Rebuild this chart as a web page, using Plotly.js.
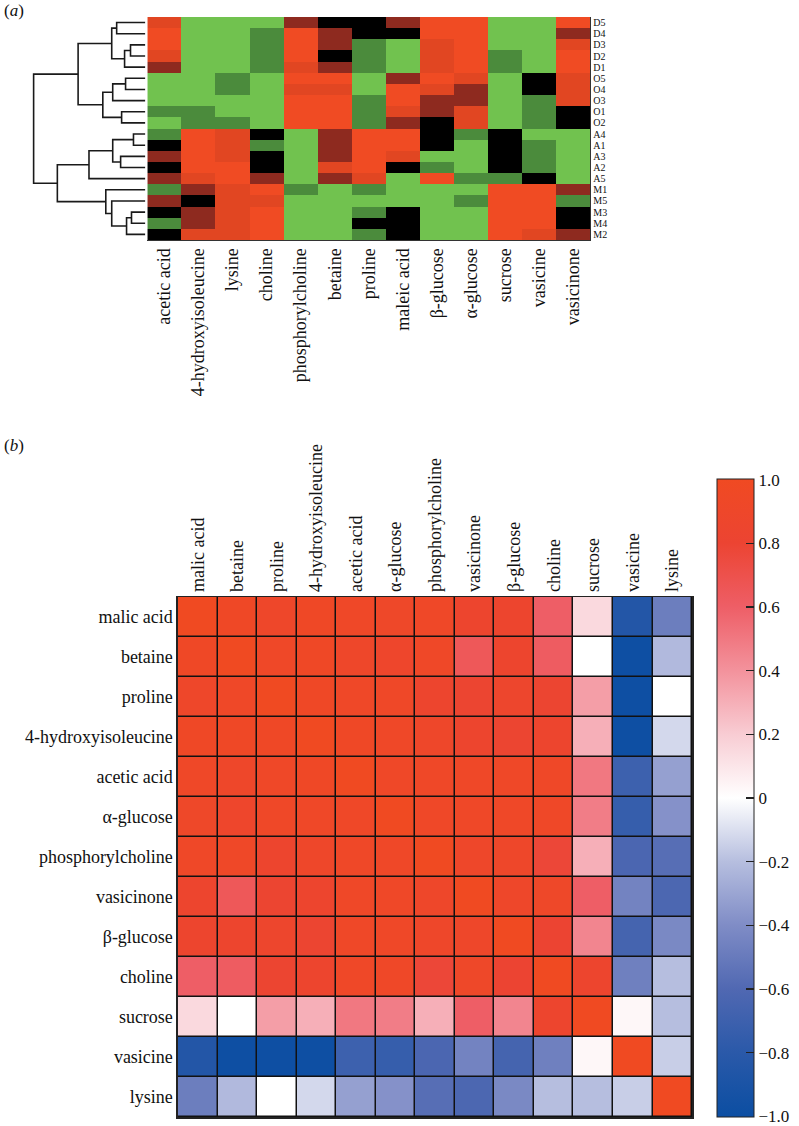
<!DOCTYPE html>
<html><head><meta charset="utf-8">
<script src="https://cdn.plot.ly/plotly-3.0.1.min.js"></script>
<style>html,body{margin:0;padding:0;background:#fff}</style>
</head><body><div id="chart" style="width:799px;height:1126px"></div>
<script>
// ---------- Panel (a): clustered heatmap ----------
const samples = ['D5','D4','D3','D2','D1','O5','O4','O3','O1','O2','A4','A1','A3','A2','A5','M1','M5','M3','M4','M2'];
const metabolitesA = ['acetic acid','4-hydroxyisoleucine','lysine','choline','phosphorylcholine','betaine','proline','maleic acid','\u03b2-glucose','\u03b1-glucose','sucrose','vasicine','vasicinone'];
// relative level (green = low, black = mid, red = high)
const levelsA = [
  [1.85,-2,-2,-2, 1, 0, 0, 1, 2, 2,-2,-2, 2],
  [2,-2,-2,-1, 2, 1, 0, 0, 2, 2,-2,-2, 1],
  [2,-2,-2,-1, 2, 1,-1,-2,1.85, 2,-2,-2,1.85],
  [1.85,-2,-2,-1, 2, 0,-1,-2,1.85, 2,-1,-2, 2],
  [1,-2,-2,-1,1.85, 1,-1,-2,1.85, 2,-1,-2, 2],
  [-2,-2,-1,-2, 2, 2,-2, 1, 2,1.85,-2, 0,1.85],
  [-2,-2,-1,-2,1.85,1.85,-2, 2,1.85, 1,-2, 0,1.85],
  [-2,-2,-2,-2, 2, 2,-1, 2, 1, 1,-2,-1,1.85],
  [-1,-1,-2,-2, 2, 2,-1,1.85, 1,1.85,-2,-1, 0],
  [-2,-1,-1,-2, 2, 2,-1, 1, 0,1.85,-2,-1, 0],
  [-1, 2,1.85, 0,-2, 1, 2, 2, 0,-1, 0,-2,-2],
  [0, 2,1.85,-1,-2, 1, 2, 2, 0,-2, 0,-1,-2],
  [1, 2,1.85, 0,-2, 1, 2,1.85,-2,-2, 0,-1,-2],
  [0, 2, 2, 0,-2,1.85, 2, 0,-1,-2, 0,-1,-2],
  [1,1.85, 2, 1,-2, 1,1.85,-2, 2,-1,-1, 0,-2],
  [-1, 1,1.85, 2,-1,-2,-1,-2,-2,-2, 2, 2, 1],
  [1, 0,1.85,1.85,-2,-2,-2,-2,-2,-1, 2, 2,-1],
  [0, 1,1.85, 2,-2,-2,-1, 0,-2,-2, 2, 2, 0],
  [-1, 1,1.85, 2,-2,-2, 0, 0,-2,-2, 2, 2, 0],
  [0,1.85,1.85, 2,-2,-2,-1, 0,-2,-2, 2,1.85, 1]
];
// dendrogram merges: [child1, child2, height]; leaves 0..19, new clusters 20..
const dendroMerges = [
  [10,11,1.2],[17,18,1.4],[2,3,1.5],[21,19,1.9],[5,6,2.0],[22,4,2.1],[8,9,2.4],
  [12,13,2.5],[0,1,2.9],[24,7,3.3],[20,27,3.3],[28,25,3.4],[23,16,3.4],[32,15,4.0],
  [29,26,4.3],[30,14,5.7],[31,34,6.8],[35,33,8.9],[36,37,11.3]
];

// ---------- Panel (b): correlation matrix ----------
const metabolitesB = ['malic acid','betaine','proline','4-hydroxyisoleucine','acetic acid','\u03b1-glucose','phosphorylcholine','vasicinone','\u03b2-glucose','choline','sucrose','vasicine','lysine'];
const corrB = [
  [1.00,0.95,0.90,0.95,0.93,0.92,0.93,0.85,0.85,0.60,0.15,-0.85,-0.48],
  [0.95,1.00,0.93,0.95,0.90,0.88,0.93,0.65,0.85,0.62,0.00,-0.98,-0.22],
  [0.90,0.93,1.00,0.95,0.93,0.93,0.85,0.82,0.86,0.82,0.36,-0.98,0.00],
  [0.95,0.95,0.95,1.00,0.95,0.93,0.90,0.85,0.82,0.85,0.30,-0.98,-0.12],
  [0.93,0.90,0.93,0.95,1.00,0.93,0.93,0.93,0.93,0.93,0.50,-0.70,-0.32],
  [0.92,0.88,0.93,0.93,0.93,1.00,0.93,0.93,0.93,0.93,0.48,-0.74,-0.38],
  [0.93,0.93,0.85,0.90,0.93,0.93,1.00,0.90,0.90,0.78,0.30,-0.63,-0.57],
  [0.85,0.65,0.82,0.85,0.93,0.93,0.90,1.00,0.90,0.92,0.60,-0.45,-0.62],
  [0.85,0.85,0.86,0.82,0.93,0.93,0.90,0.90,1.00,0.80,0.45,-0.66,-0.42],
  [0.60,0.62,0.82,0.85,0.93,0.93,0.78,0.92,0.80,1.00,0.85,-0.47,-0.20],
  [0.15,0.00,0.36,0.30,0.50,0.48,0.30,0.60,0.45,0.85,1.00,0.03,-0.20],
  [-0.85,-0.98,-0.98,-0.98,-0.70,-0.74,-0.63,-0.45,-0.66,-0.47,0.03,1.00,-0.15],
  [-0.48,-0.22,0.00,-0.12,-0.32,-0.38,-0.57,-0.62,-0.42,-0.20,-0.20,-0.15,1.00]
];
const cbTickVals = [1,0.8,0.6,0.4,0.2,0,-0.2,-0.4,-0.6,-0.8,-1];
const cbTickText = ['1.0','0.8','0.6','0.4','0.2','0','\u22120.2','\u22120.4','\u22120.6','\u22120.8','\u22121.0'];

// ---------- build dendrogram path ----------
const nodeY = samples.map((_, i) => i);
const nodeH = samples.map(() => 0);
const dx = [], dy = [];
dendroMerges.forEach(([a, b, h]) => {
  dx.push(nodeH[a], h, h, nodeH[b], null);
  dy.push(nodeY[a], nodeY[a], nodeY[b], nodeY[b], null);
  nodeY.push((nodeY[a] + nodeY[b]) / 2);
  nodeH.push(h);
});

const serif = '"Liberation Serif", "Times New Roman", Times, serif';
const W = 799, H = 1126;
const px = v => v / W, py = v => 1 - v / H;

const greenRed = [
  [0, '#71c24f'], [0.25, '#4b8b3c'], [0.5, '#000000'], [0.75, '#8e2a1f'], [1, '#f04b23']
];
const blueRed = [
  [0.0, '#0b4ea2'], [0.1, '#2a59a9'], [0.2, '#5068b2'], [0.3, '#7f8cc6'], [0.4, '#b6bedf'],
  [0.5, '#ffffff'], [0.6, '#f8ccd3'], [0.7, '#f3929c'], [0.8, '#ee5e66'], [0.9, '#ec4432'], [1.0, '#f04a22']
];

const traces = [
  {
    type: 'heatmap', x: metabolitesA, y: samples.map((_, i) => i), z: levelsA,
    zmin: -2, zmax: 2, colorscale: greenRed, showscale: false,
    xaxis: 'x', yaxis: 'y', hoverinfo: 'skip'
  },
  {
    type: 'scatter', mode: 'lines', x: dx, y: dy, connectgaps: false,
    line: {color: '#1a1a1a', width: 1.6}, xaxis: 'x2', yaxis: 'y', hoverinfo: 'skip', cliponaxis: false
  },
  {
    type: 'heatmap', x: metabolitesB, y: metabolitesB, z: corrB,
    zmin: -1.002, zmax: 1.002, colorscale: blueRed, xgap: 1.5, ygap: 1.5,
    xaxis: 'x3', yaxis: 'y3', hoverinfo: 'skip',
    colorbar: {
      thickness: 37, thicknessmode: 'pixels', len: 638, lenmode: 'pixels',
      x: px(725), xanchor: 'left', y: py(1117), yanchor: 'bottom', xpad: 0, ypad: 0,
      outlinewidth: 1, outlinecolor: '#222', ticks: 'inside', ticklen: 8, tickcolor: '#222', tickwidth: 1.5,
      ticklabeloverflow: 'allow',
      tickvals: cbTickVals, ticktext: cbTickText, tickfont: {family: serif, size: 17, color: '#111'}
    }
  }
];

const layout = {
  width: W, height: H, margin: {l: 0, r: 0, t: 0, b: 0},
  paper_bgcolor: '#fff', plot_bgcolor: '#fff', showlegend: false,
  font: {family: serif, color: '#111'},
  xaxis: {
    domain: [px(149), px(597)], anchor: 'y', type: 'category', tickangle: -90,
    tickfont: {family: serif, size: 18}, ticks: '', showline: true, linecolor: '#333', linewidth: 1,
    showgrid: false, zeroline: false, fixedrange: true
  },
  yaxis: {
    domain: [py(240), py(17)], anchor: 'x', side: 'right', range: [19.5, -0.5],
    tickvals: samples.map((_, i) => i), ticktext: samples, tickfont: {family: serif, size: 10},
    ticks: '', showline: true, linecolor: '#333', linewidth: 1, showgrid: false, zeroline: false
  },
  xaxis2: {
    domain: [px(25), px(147)], anchor: 'y', range: [12.2, 0], visible: false,
    showgrid: false, zeroline: false
  },
  xaxis3: {
    domain: [px(180), px(700)], anchor: 'y3', side: 'top', type: 'category', tickangle: -90,
    tickfont: {family: serif, size: 18}, ticks: '', showline: true, mirror: true,
    linecolor: '#222', linewidth: 1.5, showgrid: false, zeroline: false
  },
  yaxis3: {
    domain: [py(1117), py(597)], anchor: 'x3', type: 'category', autorange: 'reversed',
    tickfont: {family: serif, size: 18}, ticks: '', showline: true, mirror: true,
    linecolor: '#222', linewidth: 1.5, showgrid: false, zeroline: false
  },
  shapes: [{
    type: 'rect', xref: 'x3 domain', yref: 'y3 domain', x0: 0, x1: 1, y0: 0, y1: 1,
    fillcolor: '#111', line: {width: 0}, layer: 'below'
  }],
  annotations: [
    {text: '(<i>a</i>)', xref: 'paper', yref: 'paper', x: px(2), y: py(10), xanchor: 'left', yanchor: 'middle',
     showarrow: false, font: {family: serif, size: 17}},
    {text: '(<i>b</i>)', xref: 'paper', yref: 'paper', x: px(2), y: py(445), xanchor: 'left', yanchor: 'middle',
     showarrow: false, font: {family: serif, size: 17}}
  ]
};

Plotly.newPlot('chart', traces, layout, {displayModeBar: false, staticPlot: true});
</script></body></html>
